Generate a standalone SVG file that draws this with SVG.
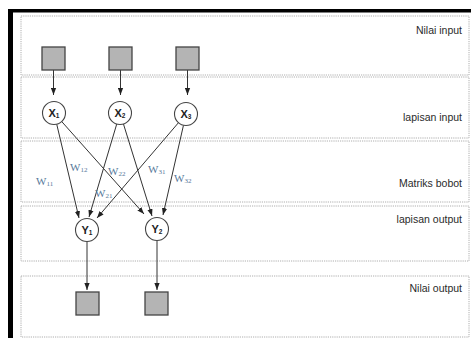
<svg xmlns="http://www.w3.org/2000/svg" width="471" height="338" viewBox="0 0 471 338">
<defs>
<marker id="ah" viewBox="0 0 8 6" markerWidth="7" markerHeight="6" refX="8" refY="3" orient="auto" markerUnits="userSpaceOnUse">
<path d="M0,0 L8,3 L0,6 z" fill="#222"/>
</marker>
</defs>
<style>
.band{fill:none;stroke:#9a9a9a;stroke-width:0.8;stroke-dasharray:1.2,1}
.lbl{font-family:"Liberation Sans",Arial,sans-serif;font-size:10.5px;fill:#2a2a2a;text-anchor:end}
.sq{fill:#b4b4b4;stroke:#444;stroke-width:1.3}
.nd{fill:#fff;stroke:#444;stroke-width:1.1}
.nt{font-family:"Liberation Sans",Arial,sans-serif;font-weight:bold;font-size:11px;fill:#222;text-anchor:middle}
.sub{font-size:6.5px}
.w{font-family:"Liberation Serif","Times New Roman",serif;font-size:11px;fill:#56789a}
.ws{font-size:7px}
.cn{fill:none;stroke:#333;stroke-width:1;marker-end:url(#ah)}
</style>
<rect x="0" y="0" width="471" height="338" fill="#fff"/>
<rect x="8" y="9" width="463" height="3.5" fill="#000"/>
<rect x="8" y="9" width="5" height="329" fill="#000"/>
<g id="bands">
<rect class="band" x="21" y="16" width="448" height="59"/>
<rect class="band" x="21" y="77" width="448" height="61"/>
<rect class="band" x="21" y="141" width="448" height="61"/>
<rect class="band" x="21" y="206" width="448" height="55"/>
<rect class="band" x="21" y="276" width="448" height="61"/>
<text class="lbl" x="462" y="34">Nilai input</text>
<text class="lbl" x="462" y="121">lapisan input</text>
<text class="lbl" x="462" y="187">Matriks bobot</text>
<text class="lbl" x="462" y="223">lapisan output</text>
<text class="lbl" x="462" y="292">Nilai output</text>
</g>
<g id="connectors">
<line class="cn" x1="53.5" y1="70" x2="53.5" y2="95"/>
<line class="cn" x1="120.5" y1="70" x2="120.5" y2="95"/>
<line class="cn" x1="187.5" y1="70" x2="187.5" y2="95"/>
<line class="cn" x1="56.6" y1="123.7" x2="79" y2="218"/>
<line class="cn" x1="61.4" y1="121.2" x2="144" y2="214"/>
<line class="cn" x1="116.9" y1="123.5" x2="89" y2="217"/>
<line class="cn" x1="123.3" y1="123.5" x2="152" y2="216"/>
<line class="cn" x1="178.8" y1="122.3" x2="97" y2="218"/>
<line class="cn" x1="183.6" y1="124.7" x2="163" y2="215"/>
<line class="cn" x1="87" y1="242" x2="87" y2="290"/>
<line class="cn" x1="157" y1="241" x2="157" y2="290"/>
<text class="w" x="36" y="185">W<tspan class="ws" dy="1">11</tspan></text>
<text class="w" x="70" y="171">W<tspan class="ws" dy="1">12</tspan></text>
<text class="w" x="108" y="175">W<tspan class="ws" dy="1">22</tspan></text>
<text class="w" x="148" y="173">W<tspan class="ws" dy="1">31</tspan></text>
<text class="w" x="174" y="182">W<tspan class="ws" dy="1">32</tspan></text>
<text class="w" x="95" y="197">W<tspan class="ws" dy="1">21</tspan></text>
</g>
<g id="in1"><rect class="sq" x="42" y="47" width="23" height="23"/></g>
<g id="in2"><rect class="sq" x="109" y="47" width="23" height="23"/></g>
<g id="in3"><rect class="sq" x="176" y="47" width="23" height="23"/></g>
<g id="x1"><circle class="nd" cx="54" cy="113" r="11.5"/><text class="nt" x="54" y="117">X<tspan class="sub" dy="1">1</tspan></text></g>
<g id="x2"><circle class="nd" cx="120" cy="113" r="11.5"/><text class="nt" x="120" y="117">X<tspan class="sub" dy="1">2</tspan></text></g>
<g id="x3"><circle class="nd" cx="186" cy="114" r="11.5"/><text class="nt" x="186" y="118">X<tspan class="sub" dy="1">3</tspan></text></g>
<g id="y1"><circle class="nd" cx="87" cy="230" r="11.5"/><text class="nt" x="87" y="234">Y<tspan class="sub" dy="1">1</tspan></text></g>
<g id="y2"><circle class="nd" cx="157" cy="229" r="11.5"/><text class="nt" x="157" y="233">Y<tspan class="sub" dy="1">2</tspan></text></g>
<g id="out1"><rect class="sq" x="76" y="292" width="23" height="23"/></g>
<g id="out2"><rect class="sq" x="145" y="292" width="23" height="23"/></g>
</svg>
